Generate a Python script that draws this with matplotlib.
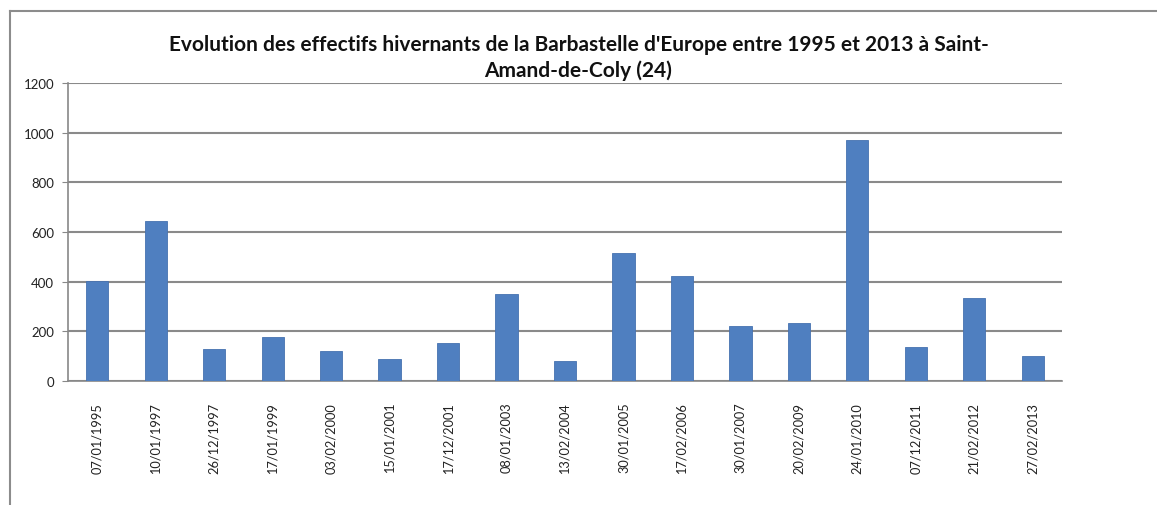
import matplotlib
matplotlib.use("Agg")
import matplotlib.pyplot as plt
from matplotlib.lines import Line2D

dates = ["07/01/1995", "10/01/1997", "26/12/1997", "17/01/1999", "03/02/2000",
         "15/01/2001", "17/12/2001", "08/01/2003", "13/02/2004", "30/01/2005",
         "17/02/2006", "30/01/2007", "20/02/2009", "24/01/2010", "07/12/2011",
         "21/02/2012", "27/02/2013"]
effectifs = [402, 646, 127, 177, 122, 90, 153, 349, 79, 514, 421, 220,
             234, 972, 137, 334, 99]
yticks = [0, 200, 400, 600, 800, 1000, 1200]

title = ("Evolution des effectifs hivernants de la Barbastelle d'Europe entre 1995 et 2013 à Saint-\n"
         "Amand-de-Coly (24)")

plt.rcParams['font.family'] = ['Lato', 'DejaVu Sans']

fig = plt.figure(figsize=(11.57, 5.06), dpi=100)
ax = fig.add_axes([68 / 1157, 1 - 382 / 506, (1062 - 68) / 1157, (382 - 84) / 506])

x = range(len(dates))
ax.bar(x, effectifs, width=0.38, color="#4F7FC0", edgecolor="#4672B0", linewidth=0.6, zorder=3)

ax.set_xlim(-0.5, len(dates) - 0.5)
ax.set_ylim(0, 1200)
ax.set_yticks(yticks)
ax.set_yticklabels([str(v) for v in yticks], fontsize=9.5, color="#222222")
ax.set_xticks(list(x))
ax.set_xticklabels(dates, rotation=90, fontsize=9.2, color="#222222")
ax.tick_params(axis="x", length=0, pad=15)
ax.tick_params(axis="y", length=4, color="#888888", pad=6)

ax.grid(axis="y", color="#8a8a8a", linewidth=1.5, zorder=0)
for s in ["top", "right"]:
    ax.spines[s].set_visible(False)
ax.spines["left"].set_color("#888888")
ax.spines["left"].set_linewidth(1.2)
ax.spines["bottom"].set_color("#888888")
ax.spines["bottom"].set_linewidth(1.2)

fig.text(0.5, 1 - 58 / 506, title, ha="center", va="center", fontsize=15,
         fontweight="bold", color="#111111", linespacing=1.35)

# frame lines along the top and left edges of the chart area
fig.add_artist(Line2D([10 / 1157, 1.0], [1 - 12 / 506, 1 - 12 / 506],
                      transform=fig.transFigure, color="#8c8c8c", linewidth=1.5))
fig.add_artist(Line2D([10 / 1157, 10 / 1157], [0.0, 1 - 12 / 506],
                      transform=fig.transFigure, color="#8c8c8c", linewidth=1.5))

fig.savefig("out.png", dpi=100, facecolor="white")
